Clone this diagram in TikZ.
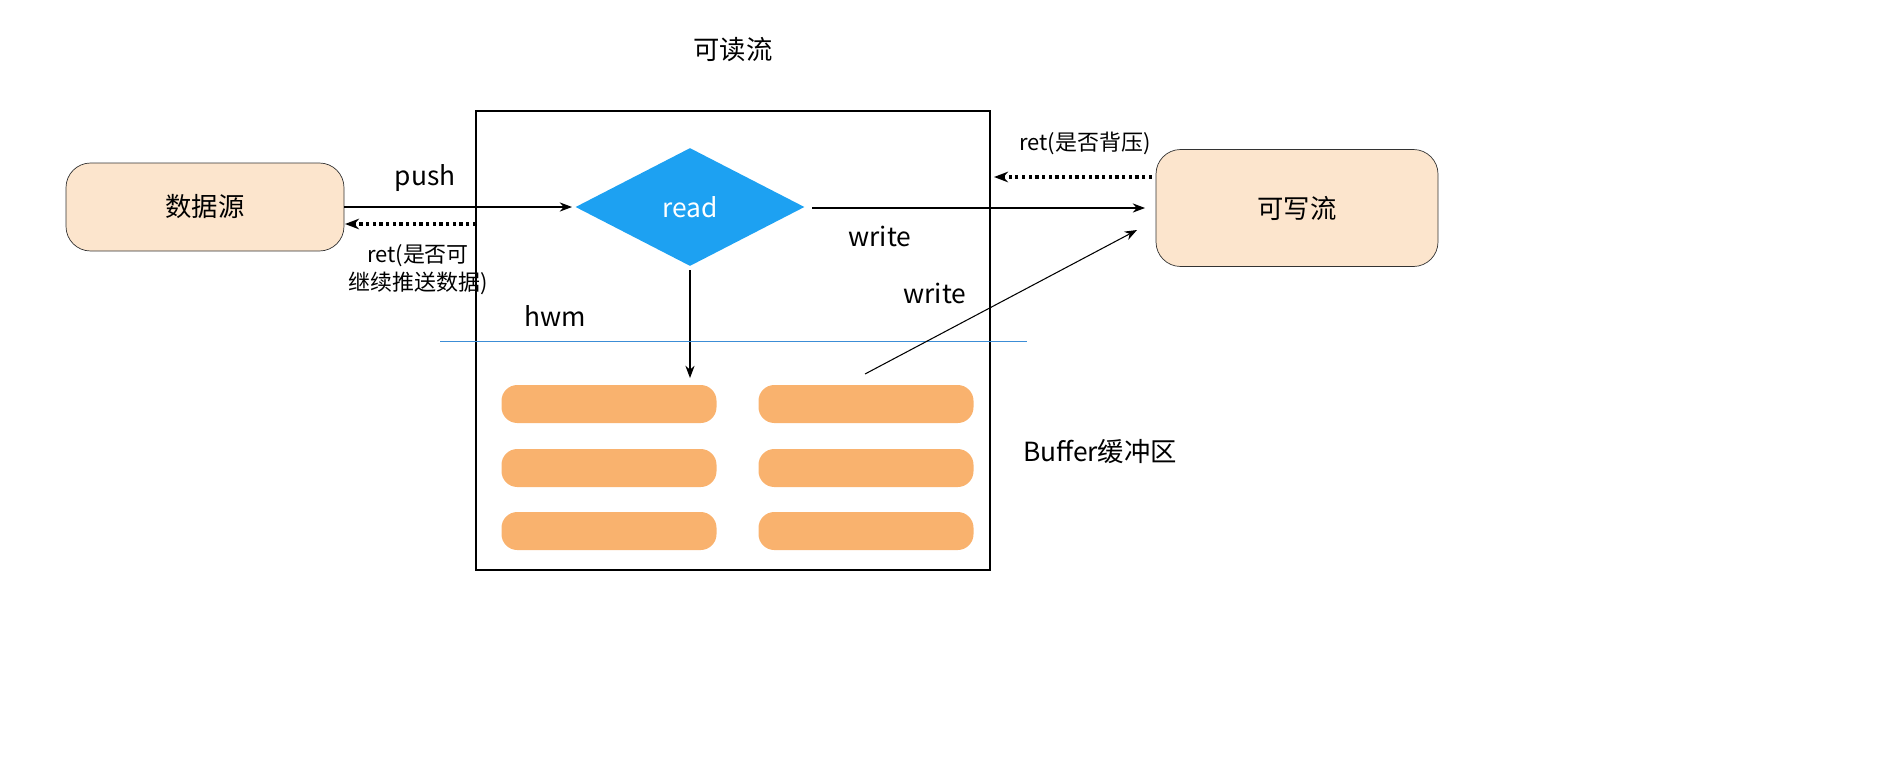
\documentclass[tikz,border=0pt]{standalone}
\usepackage{fontspec}
\setmainfont{Noto Sans CJK SC}
\usetikzlibrary{shapes.geometric,arrows.meta}
\definecolor{peach}{HTML}{FCE5CD}
\definecolor{pill}{HTML}{F9B26E}
\definecolor{diam}{HTML}{1DA1F2}
\definecolor{hwmline}{HTML}{3C8DD6}
\tikzset{
    src/.style={draw=black!80,fill=peach,rounded corners=14pt,minimum width=278*0.02cm,minimum height=88*0.02cm,font=\fontsize{15}{18}\selectfont},
    buf/.style={fill=pill,rounded corners=9pt,minimum width=215*0.02cm,minimum height=38*0.02cm},
    txt/.style={font=\fontsize{15}{18}\selectfont},
    small/.style={font=\fontsize{12.5}{16}\selectfont,align=center},
    arr/.style={-{Stealth[length=7pt]},semithick},
    back/.style={-{Stealth[length=8pt]},line width=1.8pt,dotted}
}
\begin{document}
\begin{tikzpicture}[x=0.02cm,y=-0.02cm]
    \useasboundingbox (0,0) rectangle (1904,758);
    \node[txt] (title) at (733,50) {可读流};
    \draw[semithick] (476,111) rectangle (990,570);
    \node[src] (source) at (205,207) {数据源};
    \node[src,minimum width=282*0.02cm,minimum height=117*0.02cm] (sink) at (1297,208) {可写流};
    \node[diamond,fill=diam,minimum width=229*0.02cm,minimum height=118*0.02cm,inner sep=0pt,
        text=white,font=\fontsize{15}{18}\selectfont] (read) at (690,207) {read};
    % left side
    \coordinate (pushs) at (344,207);
    \coordinate (pushe) at (572,207);
    \draw[arr] (pushs) -- (pushe);
    \node[txt] (push) at (425,178) {push};
    \coordinate (reta) at (476,224);
    \coordinate (retb) at (345,224);
    \draw[back] (reta) -- (retb);
    \node[small] (ret) at (418,270) {ret(是否可\\继续推送数据)};
    % right side
    \coordinate (wa) at (812,208);
    \coordinate (wb) at (1145,208);
    \draw[arr] (wa) -- (wb);
    \node[txt] (write1) at (880,236) {write};
    \coordinate (bpa) at (1152,177);
    \coordinate (bpb) at (994,177);
    \draw[back] (bpa) -- (bpb);
    \node[small] (bp) at (1085,143) {ret(是否背压)};
    % buffer
    \coordinate (down) at (690,378);
    \draw[arr] (read.south) ++(0,4) -- (down);
    \node[txt] (hwm) at (555,316) {hwm};
    \coordinate (hl) at (440,341);
    \coordinate (hr) at (1027,341);
    \draw[hwmline] (hl) -- (hr);
    \foreach \y [count=\i] in {404,468,531} {
        \node[buf] (bl\i) at (609,\y) {};
        \node[buf] (br\i) at (866,\y) {};
    }
    \coordinate (wc) at (865,374);
    \coordinate (wd) at (1137,230);
    \draw[arr] (wc) -- (wd);
    \node[txt] (write2) at (935,293) {write};
    \node[txt] (buffer) at (1100,452) {Buffer缓冲区};
\end{tikzpicture}
\end{document}
